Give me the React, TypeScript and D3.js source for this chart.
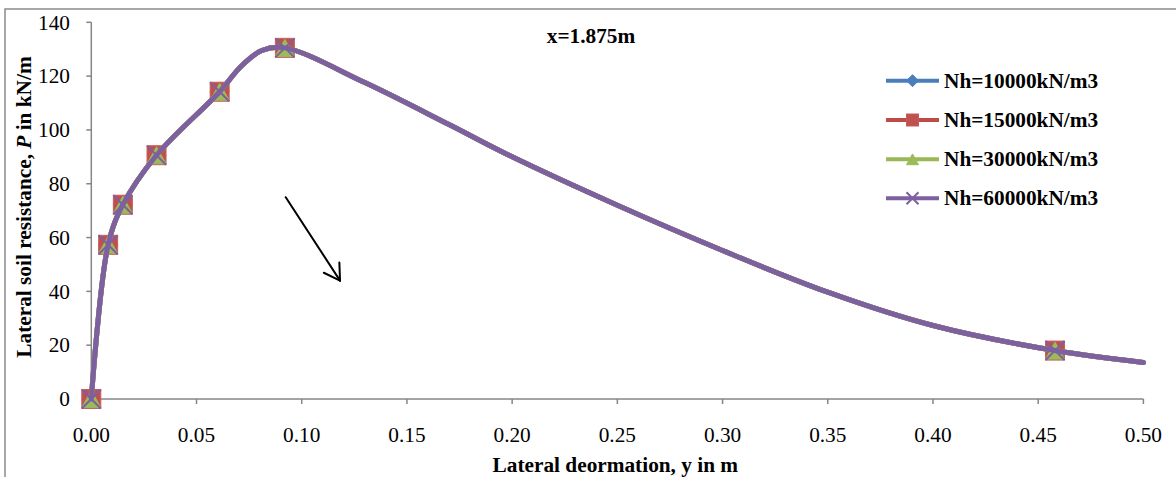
import React from "react";
import * as d3 from "d3";

// ---- data ----
const deflection = [0, 0.008, 0.015, 0.031, 0.061, 0.071, 0.081, 0.092, 0.13, 0.17, 0.2, 0.25, 0.3, 0.35, 0.4, 0.458, 0.5];
const resistance = [0, 57.3, 72.2, 90.6, 114.2, 123.5, 129.5, 130.5, 117.6, 102.0, 90.0, 72.0, 55.2, 39.7, 27.3, 18.0, 13.6];
// which of the points above carry a marker
const markedPoint = [1, 1, 1, 1, 1, 0, 0, 1, 0, 0, 0, 0, 0, 0, 0, 1, 0];

const seriesNames = ["Nh=10000kN/m3", "Nh=15000kN/m3", "Nh=30000kN/m3", "Nh=60000kN/m3"];
const seriesColors = ["#4A7EBB", "#BE4B48", "#98B954", "#7D60A0"];
const seriesMarkers = ["diamond", "square", "triangle", "x"];

const xTicks = [0, 0.05, 0.1, 0.15, 0.2, 0.25, 0.3, 0.35, 0.4, 0.45, 0.5];
const yTicks = [0, 20, 40, 60, 80, 100, 120, 140];

const chartTitle = "x=1.875m";
const xTitle = "Lateral deormation, y in m";
const arrowFrom = [0.0924, 75];
const arrowTo = [0.1182, 44];

// ---- layout ----
const W = 1176;
const H = 477;
const FONT = "'Liberation Serif', 'Times New Roman', serif";
const FS = 21.3;
const AXIS = "#868686";

const x = d3.scaleLinear().domain([0, 0.5]).range([91.3, 1143.4]);
const y = d3.scaleLinear().domain([0, 140]).range([399, 22.3]);

function Marker({ kind, cx, cy, size, color }: { kind: string; cx: number; cy: number; size: number; color: string }) {
  const h = size / 2;
  if (kind === "diamond") {
    return <path d={`M${cx},${cy - h}L${cx + h},${cy}L${cx},${cy + h}L${cx - h},${cy}Z`} fill={color} stroke={color} strokeWidth={1} />;
  }
  if (kind === "square") {
    return <rect x={cx - h} y={cy - h} width={size} height={size} fill="#C0504D" stroke="#C65F5C" strokeWidth={1} />;
  }
  if (kind === "triangle") {
    const th = size * 0.9;
    return (
      <path
        d={`M${cx},${cy - th / 2}L${cx + h},${cy + th / 2}L${cx - h},${cy + th / 2}Z`}
        fill="#9BBB59"
        stroke="#9BBB59"
        strokeWidth={1}
      />
    );
  }
  return (
    <path
      d={`M${cx - h},${cy - h}L${cx + h},${cy + h}M${cx - h},${cy + h}L${cx + h},${cy - h}`}
      stroke={color}
      strokeWidth={2}
      fill="none"
    />
  );
}

export default function App() {
  const pts: [number, number][] = deflection.map((d, i) => [d, resistance[i]]);
  const line = d3
    .line<[number, number]>()
    .x((d) => x(d[0]))
    .y((d) => y(d[1]))
    .curve(d3.curveCatmullRom.alpha(0.5));
  const pathD = line(pts) || "";

  // arrow
  const ax0 = x(arrowFrom[0]);
  const ay0 = y(arrowFrom[1]);
  const ax1 = x(arrowTo[0]);
  const ay1 = y(arrowTo[1]);
  const ang = Math.atan2(ay1 - ay0, ax1 - ax0);
  const headLen = 18;
  const headAng = (31 * Math.PI) / 180;
  const hx1 = ax1 - headLen * Math.cos(ang - headAng);
  const hy1 = ay1 - headLen * Math.sin(ang - headAng);
  const hx2 = ax1 - headLen * Math.cos(ang + headAng);
  const hy2 = ay1 - headLen * Math.sin(ang + headAng);

  const legendX0 = 886;
  const legendX1 = 939;
  const legendRows = [80.7, 120, 159.3, 198.3];

  const [x0, x1] = x.range();
  const [y0, y1] = y.range();

  return (
    <svg
      width={W}
      height={H}
      style={{ position: "absolute", left: 0, top: 0, background: "#fff" }}
      fontFamily={FONT}
    >
      <rect x={0} y={0} width={W} height={H} fill="#fff" />
      {/* outer chart border */}
      <rect x={5} y={9} width={W + 20} height={H + 20} fill="none" stroke="#8a8a8a" strokeWidth={1.5} />

      {/* axes */}
      <line x1={x0} x2={x0} y1={y1} y2={y0} stroke={AXIS} strokeWidth={1.5} />
      <line x1={x0} x2={x1} y1={y0} y2={y0} stroke={AXIS} strokeWidth={1.5} />
      {yTicks.map((t) => (
        <g key={"y" + t}>
          <line x1={x0 - 5} x2={x0} y1={y(t)} y2={y(t)} stroke={AXIS} strokeWidth={1.5} />
          <text x={70} y={y(t)} dy="0.34em" textAnchor="end" fontSize={FS} fill="#000">
            {d3.format("d")(t)}
          </text>
        </g>
      ))}
      {xTicks.map((t) => (
        <g key={"x" + t}>
          <line x1={x(t)} x2={x(t)} y1={y0} y2={y0 + 5} stroke={AXIS} strokeWidth={1.5} />
          <text x={x(t)} y={442} textAnchor="middle" fontSize={FS} fill="#000">
            {d3.format(".2f")(t)}
          </text>
        </g>
      ))}

      {/* axis titles */}
      <text x={(x0 + x1) / 2 - 2} y={472} textAnchor="middle" fontSize={FS} fontWeight="bold" fill="#000">
        {xTitle}
      </text>
      <text
        transform={`translate(31,207) rotate(-90)`}
        textAnchor="middle"
        fontSize={FS}
        fontWeight="bold"
        fill="#000"
      >
        Lateral soil resistance, <tspan fontStyle="italic">P</tspan> in kN/m
      </text>

      {/* chart title */}
      <text x={591} y={43} textAnchor="middle" fontSize={FS} fontWeight="bold" fill="#000">
        {chartTitle}
      </text>

      {/* series */}
      {seriesNames.map((name, si) => (
        <g key={name}>
          <path d={pathD} fill="none" stroke={seriesColors[si]} strokeWidth={5} strokeLinejoin="round" strokeLinecap="round" />
          {pts.map((p, i) =>
            markedPoint[i] ? (
              <Marker key={i} kind={seriesMarkers[si]} cx={x(p[0])} cy={y(p[1])} size={19} color={seriesColors[si]} />
            ) : null
          )}
        </g>
      ))}

      {/* arrow annotation */}
      <g stroke="#000" strokeWidth={2} fill="none" strokeLinecap="round">
        <line x1={ax0} y1={ay0} x2={ax1} y2={ay1} />
        <line x1={ax1} y1={ay1} x2={hx1} y2={hy1} />
        <line x1={ax1} y1={ay1} x2={hx2} y2={hy2} />
      </g>

      {/* legend */}
      {seriesNames.map((name, si) => {
        const ly = legendRows[si];
        return (
          <g key={"lg" + name}>
            <line x1={legendX0} x2={legendX1} y1={ly} y2={ly} stroke={seriesColors[si]} strokeWidth={4} />
            <Marker kind={seriesMarkers[si]} cx={(legendX0 + legendX1) / 2} cy={ly} size={12} color={seriesColors[si]} />
            <text x={944} y={ly + 7} fontSize={FS} fontWeight="bold" fill="#000">
              {name}
            </text>
          </g>
        );
      })}
    </svg>
  );
}
